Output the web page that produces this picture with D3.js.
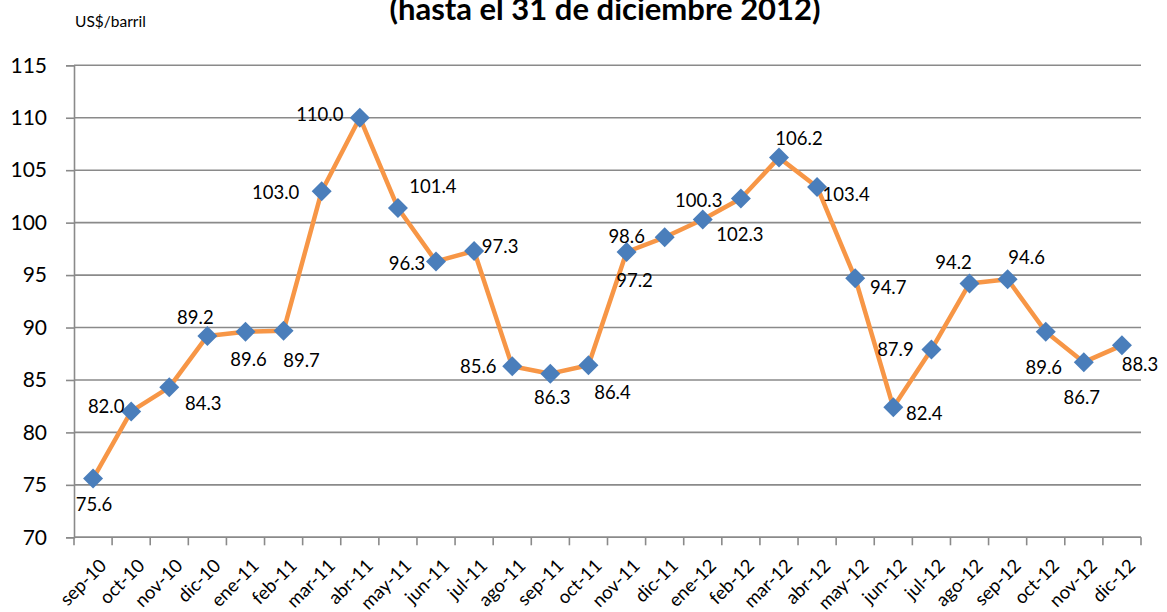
<!DOCTYPE html>
<html lang="es">
<head>
<meta charset="UTF-8">
<title>Precio del petróleo</title>
<script src="https://cdn.jsdelivr.net/npm/d3@7"></script>
<style>
    body { margin: 0; background: #fff; }
    svg { display: block; font-family: Lato, "Open Sans", sans-serif; }
</style>
</head>
<body>
<script>

    // meses (eje x)
    var meses = ['sep-10', 'oct-10', 'nov-10', 'dic-10', 'ene-11', 'feb-11', 'mar-11', 'abr-11',
        'may-11', 'jun-11', 'jul-11', 'ago-11', 'sep-11', 'oct-11', 'nov-11', 'dic-11',
        'ene-12', 'feb-12', 'mar-12', 'abr-12', 'may-12', 'jun-12', 'jul-12', 'ago-12',
        'sep-12', 'oct-12', 'nov-12', 'dic-12'];

    // precio promedio, US$/barril
    var precios = [75.6, 82.0, 84.3, 89.2, 89.6, 89.7, 103.0, 110.0,
        101.4, 96.3, 97.3, 86.3, 85.6, 86.4, 97.2, 98.6,
        100.3, 102.3, 106.2, 103.4, 94.7, 82.4, 87.9, 94.2,
        94.6, 89.6, 86.7, 88.3];

    var yTicks = [70, 75, 80, 85, 90, 95, 100, 105, 110, 115];

    // desplazamiento de cada etiqueta respecto a su punto (px)
    var labelOffset = [[1, 26], [-25, -5], [34, 16], [-12, -18], [3, 28], [18, 30], [-46, 1], [-40, -3],
        [35, -21], [-29, 2], [26, -4], [40, 31], [-72, -7], [24, 27], [8, 29], [-38, -1],
        [-4, -19], [-1, 36], [20, -19], [29, 8], [33, 9], [31, 6], [-36, 0], [-16, -21],
        [19, -22], [-2, 36], [-2, 35], [18, 19]];

    var width = 1167;
    var height = 612;
    var margin = {top: 65.3, left: 74, right: 26, bottom: 74.7};

    var svg = d3.select('body')
        .append('svg')
        .attr('width', width)
        .attr('height', height);

    var x = d3.scaleBand()
        .domain(meses)
        .range([margin.left, width - margin.right]);

    var y = d3.scaleLinear()
        .domain([70, 115])
        .range([height - margin.bottom, margin.top]);

    // titulo (cortado arriba, como en el original)
    svg.append('text')
        .attr('x', 605)
        .attr('y', 20)
        .attr('text-anchor', 'middle')
        .attr('font-size', 31)
        .attr('font-weight', 'bold')
        .text('(hasta el 31 de diciembre 2012)');

    svg.append('text')
        .attr('x', 75)
        .attr('y', 27)
        .attr('font-size', 15.5)
        .text('US$/barril');

    // lineas de la grilla
    svg.append('g')
        .selectAll('line')
        .data(yTicks)
        .enter()
        .append('line')
        .attr('x1', margin.left)
        .attr('x2', width - margin.right)
        .attr('y1', function (d) { return y(d); })
        .attr('y2', function (d) { return y(d); })
        .attr('stroke', '#8a8a8a')
        .attr('stroke-width', 1.6);

    var yAxis = d3.axisLeft(y)
        .tickValues(yTicks)
        .tickSize(8)
        .tickPadding(19);

    var gy = svg.append('g')
        .attr('transform', 'translate(' + margin.left + ',0)')
        .call(yAxis);
    gy.select('.domain').attr('stroke', '#8a8a8a').attr('stroke-width', 1.6);
    gy.selectAll('.tick line').attr('stroke', '#8a8a8a').attr('stroke-width', 1.6);
    gy.selectAll('.tick text')
        .attr('font-size', 21)
        .attr('font-family', 'Lato')
        .attr('fill', '#000');

    // eje x: marcas entre categorias
    var xBase = y(70);
    var gx = svg.append('g');
    gx.append('line')
        .attr('x1', margin.left)
        .attr('x2', width - margin.right)
        .attr('y1', xBase)
        .attr('y2', xBase)
        .attr('stroke', '#8a8a8a')
        .attr('stroke-width', 1.6);

    gx.selectAll('line.tk')
        .data(meses.concat(['fin']))
        .enter()
        .append('line')
        .attr('class', 'tk')
        .attr('x1', function (d, i) { return margin.left + i * x.bandwidth(); })
        .attr('x2', function (d, i) { return margin.left + i * x.bandwidth(); })
        .attr('y1', xBase)
        .attr('y2', xBase + 8)
        .attr('stroke', '#8a8a8a')
        .attr('stroke-width', 1.6);

    gx.selectAll('text')
        .data(meses)
        .enter()
        .append('text')
        .attr('transform', function (d) {
            return 'translate(' + (x(d) + x.bandwidth() / 2 + 10) + ',' + (xBase + 25) + ') rotate(-45)';
        })
        .attr('text-anchor', 'end')
        .attr('dy', '0.35em')
        .attr('font-size', 18.5)
        .text(function (d) { return d; });

    var cx = function (d, i) { return x(meses[i]) + x.bandwidth() / 2; };

    var line = d3.line()
        .x(function (d, i) { return cx(d, i); })
        .y(function (d) { return y(d); });

    svg.append('path')
        .datum(precios)
        .attr('d', line)
        .attr('fill', 'none')
        .attr('stroke', '#F79646')
        .attr('stroke-width', 4.5)
        .attr('stroke-linejoin', 'round');

    var marker = d3.symbol().type(d3.symbolSquare).size(200);

    svg.append('g')
        .selectAll('path')
        .data(precios)
        .enter()
        .append('path')
        .attr('d', marker)
        .attr('transform', function (d, i) {
            return 'translate(' + cx(d, i) + ',' + y(d) + ') rotate(45)';
        })
        .attr('fill', '#4A7EBB');

    svg.append('g')
        .selectAll('text')
        .data(precios)
        .enter()
        .append('text')
        .attr('x', function (d, i) { return cx(d, i) + labelOffset[i][0]; })
        .attr('y', function (d, i) { return y(d) + labelOffset[i][1]; })
        .attr('text-anchor', 'middle')
        .attr('dy', '0.35em')
        .attr('font-size', 18.5)
        .text(function (d) { return d.toFixed(1); });

</script>
</body>
</html>
